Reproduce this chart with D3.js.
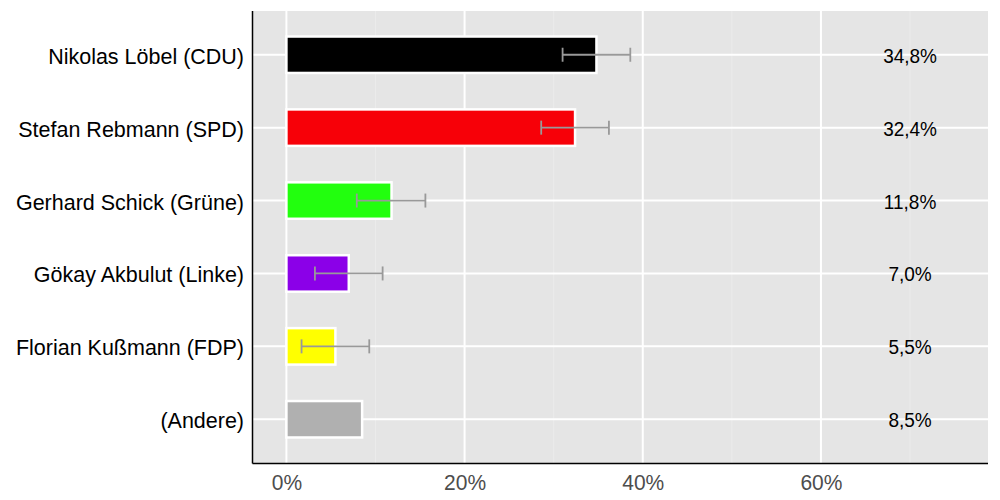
<!DOCTYPE html>
<html>
<head>
<meta charset="utf-8">
<script src="https://cdn.jsdelivr.net/npm/d3@7"></script>
<style>
  body { margin: 0; background: #fff; }
  svg { display: block; font-family: "Liberation Sans", Arial, sans-serif; }
</style>
</head>
<body>
<svg id="chart" width="1000" height="500"></svg>
<script>
const candidates = [
  "Nikolas Löbel (CDU)",
  "Stefan Rebmann (SPD)",
  "Gerhard Schick (Grüne)",
  "Gökay Akbulut (Linke)",
  "Florian Kußmann (FDP)",
  "(Andere)",
];
const shares = [34.8, 32.4, 11.8, 7.0, 5.5, 8.5];
const errLow = [31.0, 28.6, 7.9, 3.2, 1.7, null];
const errHigh = [38.6, 36.2, 15.6, 10.8, 9.3, null];
const partyColors = ["#000000", "#f70008", "#22ff0e", "#8b00e8", "#ffff00", "#b0b0b0"];
const xTicks = [0, 20, 40, 60];
const xMinor = [10, 30, 50, 70];
const labelPos = 70;

const data = candidates.map((name, i) => ({
  name,
  share: shares[i],
  lo: errLow[i],
  hi: errHigh[i],
  color: partyColors[i],
  i,
}));

const panelLeft = 253, panelRight = 988, panelTop = 11, panelBottom = 463;
const chart = d3.select("#chart");

// ggplot-like expansion: 5% on continuous, 0.6 on discrete
const xScale = d3.scaleLinear().domain([-3.75, 78.75]).range([panelLeft, panelRight]);
const yScale = d3.scaleLinear().domain([0.4, 6.6]).range([panelTop, panelBottom]);
const yPos = (i) => yScale(i + 1);
const barH = yScale(1.25) - yScale(0.75);

chart.append("rect")
  .attr("x", panelLeft).attr("y", panelTop)
  .attr("width", panelRight - panelLeft).attr("height", panelBottom - panelTop)
  .attr("fill", "#e5e5e5");

// minor grid
chart.selectAll(".minor")
  .data(xMinor)
  .enter()
  .append("line")
  .attr("x1", (d) => xScale(d)).attr("x2", (d) => xScale(d))
  .attr("y1", panelTop).attr("y2", panelBottom)
  .attr("stroke", "#ebebeb").attr("stroke-width", 1);

// major grid
chart.selectAll(".major")
  .data(xTicks)
  .enter()
  .append("line")
  .attr("x1", (d) => xScale(d)).attr("x2", (d) => xScale(d))
  .attr("y1", panelTop).attr("y2", panelBottom)
  .attr("stroke", "#ffffff").attr("stroke-width", 2);

chart.selectAll(".hgrid")
  .data(data)
  .enter()
  .append("line")
  .attr("x1", panelLeft).attr("x2", panelRight)
  .attr("y1", (d) => yPos(d.i)).attr("y2", (d) => yPos(d.i))
  .attr("stroke", "#ffffff").attr("stroke-width", 2);

// bars
chart.selectAll(".bar")
  .data(data)
  .enter()
  .append("rect")
  .attr("x", xScale(0))
  .attr("y", (d) => yPos(d.i) - barH / 2)
  .attr("width", (d) => xScale(d.share) - xScale(0))
  .attr("height", barH)
  .attr("fill", (d) => d.color)
  .attr("stroke", "#ffffff")
  .attr("stroke-width", 2.5);

// error bars
const errs = chart.selectAll(".err")
  .data(data.filter((d) => d.lo != null))
  .enter()
  .append("g")
  .attr("stroke", "#999999")
  .attr("stroke-width", 1.8);

errs.append("line")
  .attr("x1", (d) => xScale(d.lo)).attr("x2", (d) => xScale(d.hi))
  .attr("y1", (d) => yPos(d.i)).attr("y2", (d) => yPos(d.i));
errs.append("line")
  .attr("x1", (d) => xScale(d.lo)).attr("x2", (d) => xScale(d.lo))
  .attr("y1", (d) => yPos(d.i) - 7).attr("y2", (d) => yPos(d.i) + 7);
errs.append("line")
  .attr("x1", (d) => xScale(d.hi)).attr("x2", (d) => xScale(d.hi))
  .attr("y1", (d) => yPos(d.i) - 7).attr("y2", (d) => yPos(d.i) + 7);

// value labels
const fmt = (v) => v.toFixed(1).replace(".", ",") + "%";
chart.selectAll(".val")
  .data(data)
  .enter()
  .append("text")
  .attr("transform", (d) => `translate(${xScale(labelPos)}, ${yPos(d.i) + 8}) scale(1, 1.05)`)
  .attr("text-anchor", "middle")
  .attr("font-size", 19)
  .attr("fill", "#000")
  .text((d) => fmt(d.share));

// axes
const xAxis = chart.append("g")
  .attr("transform", `translate(0, ${panelBottom})`)
  .call(d3.axisBottom(xScale).tickValues(xTicks).tickFormat((d) => d + "%").tickSize(0).tickPadding(0));
xAxis.select(".domain").remove();
xAxis.selectAll("text")
  .attr("y", 0).attr("dy", null)
  .attr("transform", "translate(0, 27) scale(1, 1.07)")
  .attr("font-size", 21).attr("fill", "#4d4d4d")
  .attr("font-family", "Liberation Sans, Arial, sans-serif");

chart.append("line")
  .attr("x1", panelLeft - 0.5).attr("x2", panelRight)
  .attr("y1", panelBottom + 0.5).attr("y2", panelBottom + 0.5)
  .attr("stroke", "#000").attr("stroke-width", 1.5);
chart.append("line")
  .attr("x1", panelLeft - 0.5).attr("x2", panelLeft - 0.5)
  .attr("y1", panelTop).attr("y2", panelBottom + 0.5)
  .attr("stroke", "#000").attr("stroke-width", 1.5);

chart.selectAll(".cat")
  .data(data)
  .enter()
  .append("text")
  .attr("transform", (d) => `translate(${panelLeft - 9}, ${yPos(d.i) + 9}) scale(1, 1.05)`)
  .attr("text-anchor", "end")
  .attr("font-size", 21.5)
  .attr("fill", "#000")
  .text((d) => d.name);
</script>
</body>
</html>
